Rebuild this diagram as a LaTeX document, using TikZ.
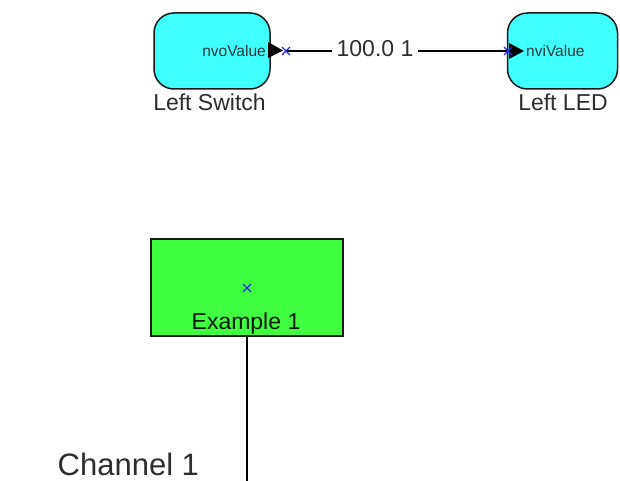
\documentclass[tikz,border=0pt]{standalone}
\usepackage{fontspec}
\setmainfont{Liberation Sans}
\definecolor{devcyan}{RGB}{64,255,255}
\definecolor{blkgreen}{RGB}{64,255,64}
\definecolor{txt}{RGB}{45,45,45}
\definecolor{portblue}{RGB}{40,40,235}
\begin{document}
\begin{tikzpicture}[x=1pt,y=-1pt,
  dev/.style={draw=black!90, line width=1.5pt, fill=devcyan, rounded corners=20pt,
    minimum width=116pt, minimum height=76pt, inner sep=0pt},
  blockbox/.style={draw=black!90, line width=1.5pt, fill=blkgreen,
    minimum width=192pt, minimum height=97pt, inner sep=0pt},
  devlabel/.style={font=\fontsize{23}{25}\selectfont, text=txt, inner sep=0pt},
  porttext/.style={font=\fontsize{15.5}{17}\selectfont, text=black!80, inner sep=0pt},
  wire/.style={draw=black, line width=1.3pt},
  portmark/.style={draw=portblue, line width=1.1pt}]
\useasboundingbox (0,0) rectangle (620,481);

% devices
\node[dev] (sw) at (212,51) {};
\node[dev, minimum width=110pt] (led) at (562.5,51) {};
\node[devlabel] (swlab) at (209.5,102) {Left Switch};
\node[devlabel] (ledlab) at (563,102) {Left LED};

% port texts and triangles
\node[porttext, anchor=east] (swport) at (266,50.5) {nvoValue};
\node[porttext, anchor=west] (ledport) at (526,51) {nviValue};
\fill[black] (268,42) -- (283,50.5) -- (268,58) -- cycle;
\fill[black] (509,43) -- (524,51) -- (509,59) -- cycle;

% port coordinates
\coordinate (swp) at (286,51);
\coordinate (ledp) at (508,51);

% connection with label
\node[devlabel, inner xsep=4pt] (conn) at (375,48.5) {100.0 1};
\draw[wire] (swp) -- (conn.west |- swp);
\draw[wire] (conn.east |- ledp) -- (ledp);

% port marks
\foreach \p in {swp,ledp}{
  \draw[portmark] ([shift={(-4,-4)}]\p) -- ([shift={(4,4)}]\p);
  \draw[portmark] ([shift={(-4,4)}]\p) -- ([shift={(4,-4)}]\p);
}

% channel block
\node[blockbox] (ex) at (247,287.5) {};
\coordinate (exc) at (247,288);
\draw[portmark] ([shift={(-4,-4)}]exc) -- ([shift={(4,4)}]exc);
\draw[portmark] ([shift={(-4,4)}]exc) -- ([shift={(4,-4)}]exc);
\node[devlabel, text=black!75!green!40!black] (exlab) at (246,324) {Example 1};

\coordinate (chend) at (247,481);
\draw[wire] (ex.south) -- (chend);
\node[font=\fontsize{31}{33}\selectfont, text=txt, inner sep=0pt, anchor=west] (chlab) at (57.5,464) {Channel 1};
\end{tikzpicture}
\end{document}
